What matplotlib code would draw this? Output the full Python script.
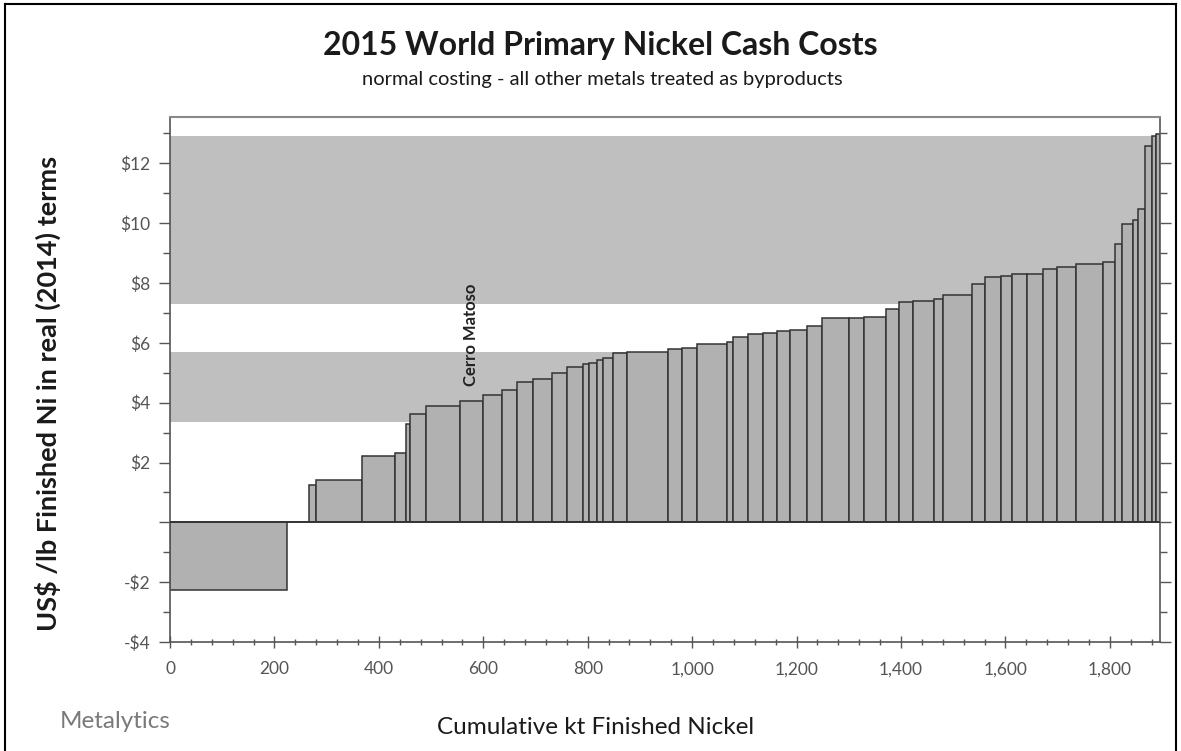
import matplotlib
matplotlib.use("Agg")
import matplotlib.pyplot as plt
from matplotlib.ticker import MultipleLocator, FuncFormatter
from matplotlib.lines import Line2D
import numpy as np

# ---------------- data ----------------
widths_kt = [225, 42, 12, 89, 63, 21, 8, 30, 65, 44, 36, 29, 32, 35, 29, 31, 12, 14, 13, 19,
             26, 79, 26, 29, 57, 13, 28, 29, 26, 25, 32, 29, 53, 28, 42, 26, 25, 42, 16, 55,
             26, 30, 21, 29, 31, 26, 37, 51, 24, 14, 21, 9, 13, 13, 9, 7]
cash_costs = [-2.25, 0.0, 1.26, 1.42, 2.21, 2.31, 3.30, 3.62, 3.90, 4.07, 4.26, 4.42, 4.68, 4.79,
              4.98, 5.20, 5.29, 5.34, 5.42, 5.50, 5.66, 5.70, 5.79, 5.84, 5.96, 6.04, 6.21, 6.31,
              6.33, 6.40, 6.42, 6.57, 6.84, 6.84, 6.86, 7.12, 7.38, 7.40, 7.46, 7.59, 7.96, 8.20,
              8.22, 8.29, 8.30, 8.46, 8.54, 8.64, 8.70, 9.29, 9.96, 10.10, 10.46, 12.57, 12.90, 12.97]
label_index = 9
label_text = "Cerro Matoso"
price_bands = [(7.3, 12.9), (3.35, 5.7)]
x_ticks = [0, 200, 400, 600, 800, 1000, 1200, 1400, 1600, 1800]
y_ticks = [-4, -2, 0, 2, 4, 6, 8, 10, 12]

title = "2015 World Primary Nickel Cash Costs"
subtitle = "normal costing - all other metals treated as byproducts"
ylabel = "US$ /lb Finished Ni in real (2014) terms"
xlabel = "Cumulative kt Finished Nickel"
logo = "Metalytics"

# ---------------- figure ----------------
W, H = 1181, 751
fig = plt.figure(figsize=(W / 100, H / 100), dpi=100)
fig.patch.set_facecolor("white")
L, R, T, B = 170, 1160, 117, 642
ax = fig.add_axes([L / W, 1 - B / H, (R - L) / W, (B - T) / H])

widths = np.array(widths_kt, dtype=float)
lefts = np.concatenate([[0], np.cumsum(widths)[:-1]])
total = widths.sum()

band_color = "#bfbfbf"
for lo, hi in price_bands:
    ax.axhspan(lo, hi, color=band_color, lw=0, zorder=0)

ax.bar(lefts, cash_costs, width=widths, align="edge", color="#b1b1b1",
       edgecolor="#333333", linewidth=1.1, zorder=2)
ax.axhline(0, color="#333333", lw=1.3, zorder=3)

ax.set_xlim(0, total)
ax.set_ylim(-4, 13.55)

# label
lx = lefts[label_index] + widths[label_index] / 2
ax.text(lx, cash_costs[label_index] + 0.5, label_text, rotation=90, ha="center", va="bottom",
        fontsize=12, fontweight="bold", family="Lato", color="#222222", zorder=4)

# spines
for s in ["left", "bottom", "right"]:
    ax.spines[s].set_color("#555555")
    ax.spines[s].set_linewidth(1.2)
ax.spines["top"].set_color("#8a8a8a")
ax.spines["top"].set_linewidth(1.5)

ax.set_xticks(x_ticks)
ax.xaxis.set_minor_locator(MultipleLocator(40))
ax.xaxis.set_major_formatter(FuncFormatter(lambda v, p: f"{int(v):,}"))
ax.set_yticks(y_ticks)
ax.yaxis.set_minor_locator(MultipleLocator(1))
ax.yaxis.set_major_formatter(FuncFormatter(lambda v, p: "" if v == 0 else (f"-${int(-v)}" if v < 0 else f"${int(v)}")))

ax.tick_params(axis="x", which="major", direction="inout", length=8, width=1, color="#555555",
               labelsize=12.5, labelcolor="#555555", pad=10)
ax.tick_params(axis="x", which="minor", direction="inout", length=5, width=1, color="#555555")
ax.tick_params(axis="y", which="major", direction="out", length=8, width=1, color="#555555",
               labelsize=12.5, labelcolor="#555555", pad=6, right=True)
ax.tick_params(axis="y", which="minor", direction="out", length=5, width=1, color="#555555", right=True)
for lab in ax.get_xticklabels() + ax.get_yticklabels():
    lab.set_family("Lato")

# texts
fig.text(600 / W, 1 - 45 / H, title, ha="center", va="center", fontsize=23, fontweight="bold",
         family="Lato", color="#1a1a1a")
fig.text(602 / W, 1 - 80 / H, subtitle, ha="center", va="center", fontsize=14.5,
         family="Lato", color="#1a1a1a")
fig.text(48 / W, 1 - 393 / H, ylabel, ha="center", va="center", rotation=90, fontsize=19.5,
         fontweight="bold", family="Lato", color="#1a1a1a")
fig.text(596 / W, 1 - 728 / H, xlabel, ha="center", va="center", fontsize=17.5,
         family="Lato", color="#1a1a1a")
fig.text(60 / W, 1 - 722 / H, logo, ha="left", va="center", fontsize=17.5,
         family="Lato", color="#7a7a7a")

# outer frame
for xs, ys in [([5 / W, 5 / W], [0, 1 - 4 / H]), ([5 / W, 1176 / W], [1 - 4 / H, 1 - 4 / H]),
               ([1176 / W, 1176 / W], [0, 1 - 4 / H])]:
    fig.add_artist(Line2D(xs, ys, transform=fig.transFigure, color="black", lw=1.5))

fig.savefig("out.png", dpi=100)
